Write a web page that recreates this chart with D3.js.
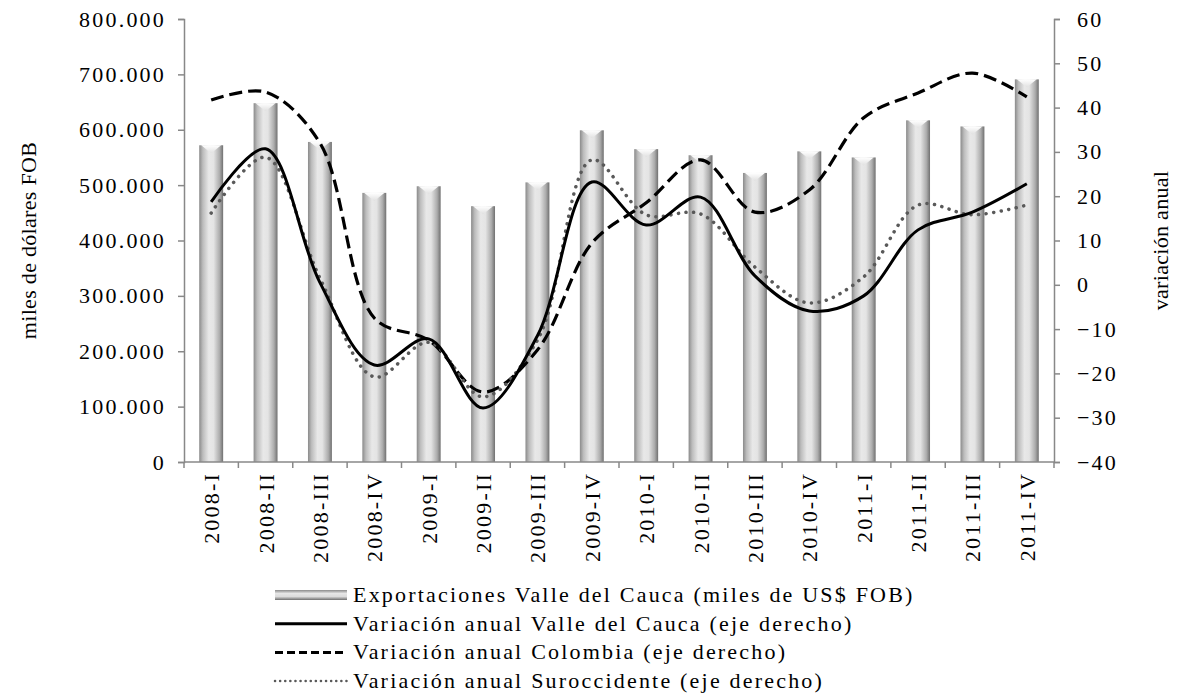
<!DOCTYPE html>
<html>
<head>
<meta charset="utf-8">
<script src="https://cdn.jsdelivr.net/npm/d3@7"></script>
<style>
  body { margin: 0; background: #fff; }
  text { font-family: "Liberation Serif", "Times New Roman", serif; fill: #000; font-size: 22px; letter-spacing: 2.2px; }
</style>
</head>
<body>
<svg id="chart"></svg>
<script>
const quarters = ["2008-I", "2008-II", "2008-III", "2008-IV", "2009-I", "2009-II", "2009-III", "2009-IV",
    "2010-I", "2010-II", "2010-III", "2010-IV", "2011-I", "2011-II", "2011-III", "2011-IV"];
const exportsValle = [572000, 648000, 578000, 486000, 498000, 462000, 505000, 599000,
    565000, 554000, 522000, 561000, 550000, 617000, 606000, 691000];
const varValle = [18.7, 30.7, 0.5, -18.1, -12.2, -27.8, -11.5, 23.2, 13.5, 19.8, 2, -5.9, -2.5, 12.4, 16.4, 22.8];
const varColombia = [41.7, 43.5, 32, -7.5, -12.5, -24.2, -14.7, 9.4, 18.5, 28.2, 16.4, 21.4, 37.7, 43.3, 47.8, 42.4];
const varSuroccidente = [16.2, 28.8, 1.5, -20.8, -13, -25.3, -12.5, 28.2, 15.8, 16, 4, -4.1, 1.8, 18, 15.8, 18];
const leftTicks = [0, 100000, 200000, 300000, 400000, 500000, 600000, 700000, 800000];
const rightTicks = [-40, -30, -20, -10, 0, 10, 20, 30, 40, 50, 60];

const width = 1178, height = 696;
const margin = { top: 19, right: 124, bottom: 234, left: 184 };
const innerW = width - margin.left - margin.right;
const innerH = height - margin.top - margin.bottom;

const svg = d3.select("#chart").attr("width", width).attr("height", height);

// bar gradient (cylinder look)
const defs = svg.append("defs");
const grad = defs.append("linearGradient").attr("id", "cyl").attr("x1", "0").attr("x2", "1");
[[0, "#8a8a8a"], [0.15, "#bcbcbc"], [0.4, "#e8e8e8"], [0.6, "#e4e4e4"], [0.85, "#acacac"], [1, "#707070"]]
    .forEach(([o, c]) => grad.append("stop").attr("offset", o).attr("stop-color", c));
const capGrad = defs.append("linearGradient").attr("id", "cap").attr("x1", "0").attr("x2", "0").attr("y1", "0").attr("y2", "1");
capGrad.append("stop").attr("offset", 0).attr("stop-color", "#ffffff");
capGrad.append("stop").attr("offset", 1).attr("stop-color", "#e0e0e0");

const g = svg.append("g").attr("transform", `translate(${margin.left},${margin.top})`);

const x = d3.scaleBand().domain(quarters).range([0, innerW]).paddingInner(0.56).paddingOuter(0.28);
const yL = d3.scaleLinear().domain([0, 800000]).range([innerH, 0]);
const yR = d3.scaleLinear().domain([-40, 60]).range([innerH, 0]);

// bars
const bars = g.selectAll("g.bar").data(quarters).join("g").attr("class", "bar");
bars.append("rect")
    .attr("x", d => x(d))
    .attr("y", (d, i) => yL(exportsValle[i]))
    .attr("width", x.bandwidth())
    .attr("height", (d, i) => innerH - yL(exportsValle[i]))
    .attr("fill", "url(#cyl)");
bars.append("path")
    .attr("d", (d, i) => {
        const x0 = x(d), w = x.bandwidth(), y0 = yL(exportsValle[i]);
        return `M${x0 + 2},${y0} L${x0 + w - 2},${y0} L${x0 + w / 2},${y0 + 8} Z`;
    })
    .attr("fill", "url(#cap)");

// axes
const axisColor = "#888";
const xAxis = g.append("g").attr("transform", `translate(0,${innerH})`);
xAxis.append("line").attr("x1", 0).attr("x2", innerW).attr("stroke", axisColor).attr("stroke-width", 1.5);
const bounds = d3.range(quarters.length + 1).map(i => i * innerW / quarters.length);
xAxis.selectAll("line.tick").data(bounds).join("line").attr("class", "tick")
    .attr("x1", d => d).attr("x2", d => d).attr("y1", 0).attr("y2", 6)
    .attr("stroke", axisColor).attr("stroke-width", 1.5);
xAxis.selectAll("text").data(quarters).join("text")
    .attr("transform", d => `translate(${x(d) + x.bandwidth() / 2 + 8},${10}) rotate(-90)`)
    .attr("text-anchor", "end")
    .text(d => d);

const leftAxis = g.append("g")
    .call(d3.axisLeft(yL).tickValues(leftTicks).tickSize(6).tickPadding(12)
        .tickFormat(d => d === 0 ? "0" : d3.format(",")(d).replace(/,/g, ".")));
leftAxis.select(".domain").attr("stroke", axisColor).attr("stroke-width", 1.5);
leftAxis.selectAll(".tick line").attr("stroke", axisColor).attr("stroke-width", 1.5);
leftAxis.selectAll(".tick text").attr("font-size", null).attr("font-family", null).attr("fill", "#000");
leftAxis.attr("font-size", null).attr("font-family", null);

const rightAxis = g.append("g").attr("transform", `translate(${innerW},0)`)
    .call(d3.axisRight(yR).tickValues(rightTicks).tickSize(6).tickPadding(17));
rightAxis.select(".domain").attr("stroke", axisColor).attr("stroke-width", 1.5);
rightAxis.selectAll(".tick line").attr("stroke", axisColor).attr("stroke-width", 1.5);
rightAxis.selectAll(".tick text").attr("fill", "#000");
rightAxis.attr("font-size", null).attr("font-family", null);

// axis titles
svg.append("text")
    .attr("transform", `translate(36,${margin.top + innerH / 2}) rotate(-90)`)
    .attr("text-anchor", "middle")
    .style("letter-spacing", "0.3px")
    .text("miles de dólares FOB");
svg.append("text")
    .attr("transform", `translate(1168,${margin.top + innerH / 2}) rotate(-90)`)
    .attr("text-anchor", "middle")
    .style("letter-spacing", "0.3px")
    .text("variación anual");

// lines
const cx = (d, i) => x(quarters[i]) + x.bandwidth() / 2;
const line = d3.line().x((d, i) => cx(d, i)).y(d => yR(d)).curve(d3.curveCatmullRom.alpha(0.5));

const series = [
    { values: varColombia, stroke: "#000", width: 3.2, dash: "13,6", cap: "butt" },
    { values: varSuroccidente, stroke: "#595959", width: 3.5, dash: "0.1,7.5", cap: "round" },
    { values: varValle, stroke: "#000", width: 3, dash: null, cap: "butt" }
];
series.forEach(s => {
    g.append("path")
        .datum(s.values)
        .attr("d", line)
        .attr("fill", "none")
        .attr("stroke", s.stroke)
        .attr("stroke-width", s.width)
        .attr("stroke-linecap", s.cap)
        .attr("stroke-dasharray", s.dash);
});

// legend
const legendItems = [
    { label: "Exportaciones Valle del Cauca (miles de US$ FOB)", type: "bar" },
    { label: "Variación anual Valle del Cauca (eje derecho)", type: "line", stroke: "#000", width: 3, dash: null, cap: "butt" },
    { label: "Variación anual Colombia (eje derecho)", type: "line", stroke: "#000", width: 3, dash: "8,4", cap: "butt" },
    { label: "Variación anual Suroccidente (eje derecho)", type: "line", stroke: "#595959", width: 2.5, dash: "0.1,5", cap: "round" }
];
const legGrad = defs.append("linearGradient").attr("id", "legcyl").attr("x1", "0").attr("x2", "0").attr("y1", "0").attr("y2", "1");
[[0, "#8a8a8a"], [0.35, "#e6e6e6"], [0.65, "#dcdcdc"], [1, "#6e6e6e"]]
    .forEach(([o, c]) => legGrad.append("stop").attr("offset", o).attr("stop-color", c));

const legend = svg.append("g").attr("transform", "translate(275,595)");
legendItems.forEach((it, i) => {
    const row = legend.append("g").attr("transform", `translate(0,${i * 28.7})`);
    if (it.type === "bar") {
        row.append("rect").attr("x", 0).attr("y", -5).attr("width", 72).attr("height", 10).attr("fill", "url(#legcyl)");
    } else {
        row.append("line").attr("x1", 0).attr("x2", 72).attr("y1", 0).attr("y2", 0)
            .attr("stroke", it.stroke).attr("stroke-width", it.width)
            .attr("stroke-linecap", it.cap).attr("stroke-dasharray", it.dash);
    }
    row.append("text").attr("x", 78).attr("y", 7).text(it.label);
});
</script>
</body>
</html>
